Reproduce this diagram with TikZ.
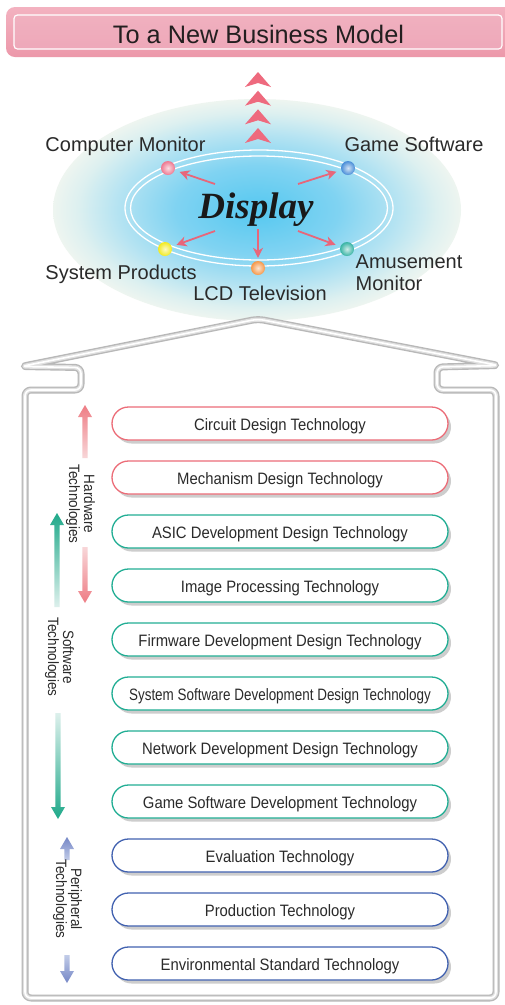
\documentclass[tikz,border=0pt]{standalone}
\usepackage{fontspec}
\usepackage{graphicx}
\setmainfont{Liberation Sans}
\newfontfamily\condfont[FakeStretch=0.9]{Liberation Sans}
\newfontfamily\dispfont{Liberation Serif}
\usetikzlibrary{arrows.meta,shadows}
\definecolor{bannerA}{HTML}{F3B2C0}
\definecolor{bannerB}{HTML}{EC98AA}
\definecolor{innerA}{HTML}{F0B0BF}
\definecolor{innerM}{HTML}{F2EEF6}
\definecolor{innerB}{HTML}{EEA8B9}
\definecolor{titlec}{HTML}{231F20}
\definecolor{chevc}{HTML}{EE6A7E}
\definecolor{glowA}{HTML}{55C8F0}
\definecolor{glowB}{HTML}{80D3F2}
\definecolor{glowC}{HTML}{B4E3F2}
\definecolor{glowE}{HTML}{DDF0F0}
\definecolor{glowD}{HTML}{EEF5F0}
\definecolor{arrpink}{HTML}{E8667A}
\definecolor{ballpink}{HTML}{EE7890}
\definecolor{ballblue}{HTML}{4A8ED8}
\definecolor{ballyellow}{HTML}{F2EA20}
\definecolor{ballorange}{HTML}{F5984A}
\definecolor{ballteal}{HTML}{38B4A4}
\definecolor{tubeg}{HTML}{B8B8B8}
\definecolor{tubel}{HTML}{E0E0E0}
\definecolor{bpink}{HTML}{EC6D78}
\definecolor{bteal}{HTML}{22AE94}
\definecolor{bblue}{HTML}{4262B0}
\definecolor{textc}{HTML}{2A2A2A}
\definecolor{hwhead}{HTML}{EE7C84}
\definecolor{hwtail}{HTML}{F8D6D8}
\definecolor{swhead}{HTML}{1FA98A}
\definecolor{swtail}{HTML}{DDF0EC}
\definecolor{pehead}{HTML}{7486C6}
\definecolor{petail}{HTML}{C2CCE8}
\pgfdeclareradialshading{glow}{\pgfpoint{0bp}{0bp}}{color(0bp)=(glowA); color(10bp)=(glowB); color(17bp)=(glowC); color(22bp)=(glowE); color(25bp)=(glowD); color(50bp)=(glowD)}
\newcommand{\blkup}[5]{%
  \shade[top color=#4, bottom color=#5] ({#1-2.6},#3) -- ({#1-2.6},{#2+12}) -- ({#1-7},{#2+12}) -- (#1,#2) -- ({#1+7},{#2+12}) -- ({#1+2.6},{#2+12}) -- ({#1+2.6},#3) -- cycle;}
\newcommand{\blkdown}[5]{%
  \shade[top color=#5, bottom color=#4] ({#1-2.6},#3) -- ({#1-2.6},{#2-12}) -- ({#1-7},{#2-12}) -- (#1,#2) -- ({#1+7},{#2-12}) -- ({#1+2.6},{#2-12}) -- ({#1+2.6},#3) -- cycle;}
\tikzset{
  lbl/.style={font=\fontsize{20}{22}\selectfont, text=textc, inner sep=0},
  ballnode/.style={circle, minimum size=14, inner sep=0, shade, draw=none},
  parrow/.style={draw=arrpink, line width=1.8, shorten >=5pt, -{Stealth[length=10pt,width=10pt,inset=3pt]}},
  tube/.style={draw=tubeg, line width=7, rounded corners=6, line join=round,
    postaction={draw=tubel, line width=4.2}, postaction={draw=white, line width=1.6}},
  techbox/.style={draw, line width=1.3, fill=white, rounded corners=16.5, minimum width=336, minimum height=33, inner sep=0,
    text height=15, text depth=2,
    font=\condfont\fontsize{16.5}{18}\selectfont, text=textc,
    drop shadow={shadow xshift=3pt, shadow yshift=-3.5pt, opacity=0.28, fill=black!70}},
  sidelbl/.style={font=\condfont\fontsize{15}{15}\selectfont, text=textc, align=center, rotate=-90, inner sep=0}
}
\begin{document}
\begin{tikzpicture}[x=1pt,y=-1pt]
\useasboundingbox (0,0) rectangle (504,1005);
\fill[white] (0,0) rectangle (504,1005);
% banner
\shade[rounded corners=9, top color=bannerA, bottom color=bannerB] (6,7) rectangle (530,57);
\shade[rounded corners=3.5, top color=innerA, middle color=innerM, bottom color=innerB] (14,15) rectangle (502,49);
\draw[rounded corners=3.5, white, line width=1.2] (14,15) rectangle (502,49);
\node[font=\fontsize{25.3}{28}\selectfont, text=titlec, anchor=base, inner sep=0] (title) at (258.5,43) {To a New Business Model};
% glow (ellipse through a scaled circle so the shading is elliptical)
\begin{scope}[shift={(257,210)}, yscale=0.544]
  \shade[shading=glow] (0,0) circle (204);
\end{scope}
% chevrons
\foreach \yy in {72,90.7,109.3,128} {
  \fill[chevc] (258,\yy) -- (271,\yy+15) -- (258,\yy+11) -- (245,\yy+15) -- cycle;
}
% rings
\draw[white, line width=1.3] (259,208) ellipse [x radius=134, y radius=58];
\draw[white, line width=1.3] (259,208) ellipse [x radius=128.5, y radius=52];
% center text
\node[font=\dispfont\bfseries\itshape\fontsize{37}{40}\selectfont, text=black!90, anchor=base, inner sep=0] (disp) at (256,218) {Display};
% balls
\node[ballnode, inner color=ballpink!25!white, outer color=ballpink] (bcm) at (168,168) {};
\node[ballnode, inner color=ballblue!25!white, outer color=ballblue] (bgs) at (348,168) {};
\node[ballnode, inner color=ballyellow!25!white, outer color=ballyellow] (bsp) at (165,249) {};
\node[ballnode, inner color=ballorange!25!white, outer color=ballorange] (blcd) at (258,268) {};
\node[ballnode, inner color=ballteal!25!white, outer color=ballteal] (bam) at (347,249) {};
% arrows
\coordinate (scm) at (215,184);
\coordinate (sgs) at (298,184);
\coordinate (ssp) at (215,231);
\coordinate (slcd) at (258,229);
\coordinate (sam) at (298,231);
\draw[parrow] (scm) -- (bcm);
\draw[parrow] (sgs) -- (bgs);
\draw[parrow] (ssp) -- (bsp);
\draw[parrow, shorten >=3pt] (slcd) -- (blcd);
\draw[parrow] (sam) -- (bam);
% labels
\node[lbl, anchor=base] (lcm) at (125.5,151.5) {Computer Monitor};
\node[lbl, anchor=base] (lgs) at (414,151.5) {Game Software};
\node[lbl, anchor=base] (lsp) at (121,279) {System Products};
\node[lbl, anchor=base] (llcd) at (260,300) {LCD Television};
\node[lbl, anchor=west, align=left] (lam) at (355.5,273) {Amusement\\Monitor};
% house tube
\draw[tube] (258,319) -- (21,366.5) -- (81,367.5) -- (81,390) -- (25,390) -- (25,998) -- (496,998) -- (496,390) -- (437,390) -- (437,367) -- (499,365.5) -- cycle;
% technology boxes
\node[techbox, draw=bpink] (t1) at (280,423.5) {Circuit Design Technology};
\node[techbox, draw=bpink] (t2) at (280,477.5) {Mechanism Design Technology};
\node[techbox, draw=bteal] (t3) at (280,531.5) {ASIC Development Design Technology};
\node[techbox, draw=bteal] (t4) at (280,585.5) {Image Processing Technology};
\node[techbox, draw=bteal] (t5) at (280,639.5) {Firmware Development Design Technology};
\node[techbox, draw=bteal] (t6) at (280,693.5) {\scalebox{0.905}[1]{System Software Development Design Technology}};
\node[techbox, draw=bteal] (t7) at (280,747.5) {Network Development Design Technology};
\node[techbox, draw=bteal] (t8) at (280,801.5) {Game Software Development Technology};
\node[techbox, draw=bblue] (t9) at (280,855.5) {Evaluation Technology};
\node[techbox, draw=bblue] (t10) at (280,909.5) {Production Technology};
\node[techbox, draw=bblue] (t11) at (280,963.5) {Environmental Standard Technology};
% side arrows
\blkup{85}{405}{458}{hwhead}{hwtail}
\blkdown{85}{603}{547}{hwhead}{hwtail}
\blkup{57}{513}{607}{swhead}{swtail}
\blkdown{58}{819}{713}{swhead}{swtail}
\blkup{67}{837}{860}{pehead}{petail}
\blkdown{67}{983}{955}{pehead}{petail}
% side labels
\node[sidelbl] (hw) at (80.5,504) {Hardware\\Technologies};
\node[sidelbl] (sw) at (59.5,657) {Software\\Technologies};
\node[sidelbl] (pe) at (67.5,899) {Peripheral\\Technologies};
\end{tikzpicture}
\end{document}
